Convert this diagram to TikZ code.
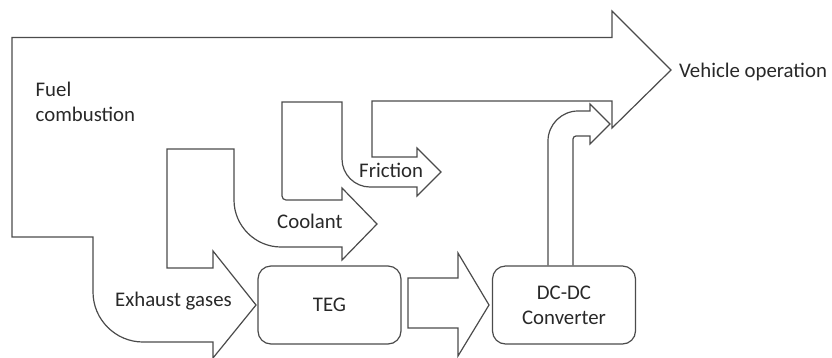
\documentclass[tikz,border=0pt]{standalone}
\usepackage{fontspec}
\setmainfont{Carlito}
\definecolor{linec}{RGB}{75,75,75}
\definecolor{textc}{RGB}{40,40,40}
\newcommand{\lblfont}{\fontsize{20.8}{25}\selectfont}
\begin{document}
\begin{tikzpicture}[x=1pt,y=-1pt,
  flow/.style={draw=linec, line width=1.2pt, line join=miter},
  box/.style={draw=linec, line width=1.2pt, rounded corners=13pt, minimum width=143pt, minimum height=78pt, inner sep=0pt, align=center, text=textc, font=\lblfont},
  lbl/.style={inner sep=0pt, text=textc, font=\lblfont, anchor=base west}]
\useasboundingbox (0,0) rectangle (832,357);

% boxes
\node[box] (teg) at (329.5,305) {TEG};
\node[box] (dc) at (564,305) {DC-DC\\Converter};

% main energy flow (fuel combustion and its branches)
\draw[flow] (12,37.5) -- (612,37.5) -- (612,11) -- (671,70) -- (612,128) -- (612,101)
  -- (372,101) -- (372,157) -- (417,157) -- (417,148) -- (441,172) -- (417,196) -- (417,187)
  -- (370,187) .. controls (354.6,187) and (342,174.4) .. (342,159)
  -- (342,102) -- (282,102) -- (282,196) .. controls (282,198.2) and (283.8,200) .. (286,200)
  -- (342,200) -- (342,188) -- (377,224) -- (342,260) -- (342,247)
  -- (281,247) .. controls (255.2,247) and (234,225.9) .. (234,200)
  -- (234,149) -- (167,149) -- (167,268) -- (213,268) -- (213,251) -- (256,305) -- (213,358) -- (213,342)
  -- (143,342) .. controls (115.5,342) and (93,319.5) .. (93,292)
  -- (93,237) -- (12,237) -- cycle;

% TEG -> DC-DC block arrow
\draw[flow] (408,278) -- (458,278) -- (458,253) -- (489,305) -- (458,356) -- (458,328) -- (408,328) -- cycle;

% DC-DC -> vehicle operation
\draw[flow] (548,0 |- dc.north) -- (548,141) .. controls (548,124.5) and (561.5,111) .. (578,111)
  -- (590,111) -- (590,104) -- (610,124) -- (590,144) -- (590,136) -- (576,136)
  .. controls (574.3,136) and (573,137.3) .. (573,139) -- (573,0 |- dc.north);

% labels
\node[inner sep=0pt, text=textc, font=\lblfont, align=left, anchor=west] (fuel) at (35.5,102.2) {Fuel\\combustion};
\node[lbl] (veh) at (679,77) {Vehicle operation};
\node[lbl] (fric) at (359,177) {Friction};
\node[lbl] (cool) at (277,228) {Coolant};
\node[lbl] (exh) at (115,306) {Exhaust gases};
\end{tikzpicture}
\end{document}
